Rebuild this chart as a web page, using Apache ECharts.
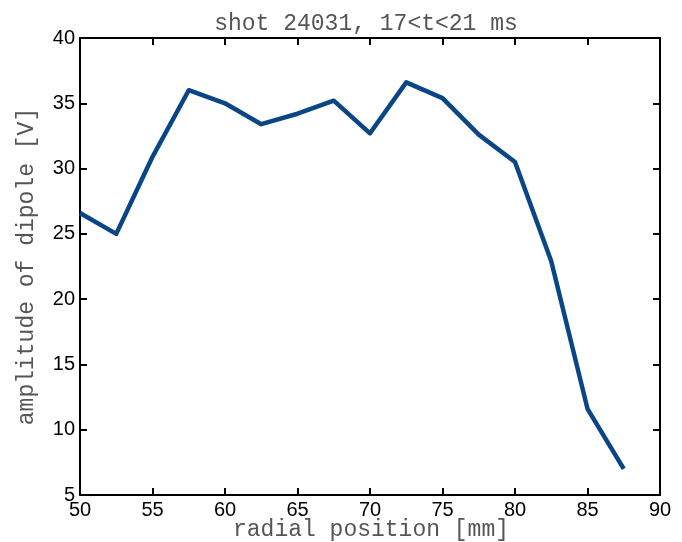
<!DOCTYPE html>
<html><head><meta charset="utf-8">
<script src="https://cdn.jsdelivr.net/npm/echarts@6/dist/echarts.min.js"></script>
<style>html,body{margin:0;padding:0;background:#fff}#c{width:682px;height:542px}</style>
</head><body><div id="c"></div>
<script>
const positions = [50, 52.5, 55, 57.5, 60, 62.5, 65, 67.5, 70, 72.5, 75, 77.5, 80, 82.5, 85, 87.5];
const amplitude = [26.6, 25.0, 30.9, 36.0, 35.0, 33.4, 34.2, 35.2, 32.7, 36.6, 35.4, 32.6, 30.5, 22.9, 11.6, 7.0];
const titleText = 'shot 24031, 17<t<21 ms';
const xName = 'radial position [mm]';
const yName = 'amplitude of dipole [V]';

const chart = echarts.init(document.getElementById('c'));
const axisLine = {show: true, lineStyle: {color: '#000', width: 2}};
const axisTick = {show: true, inside: true, length: 7, lineStyle: {color: '#000', width: 2}};
const labelFont = {fontFamily: 'Liberation Sans', fontSize: 20, color: '#000'};
const nameFont = {fontFamily: 'Liberation Mono', fontSize: 23, color: '#555'};
chart.setOption({
  animation: false,
  backgroundColor: '#fff',
  title: {text: titleText, left: 361, top: 7, textAlign: 'center',
    textStyle: {fontFamily: 'Liberation Mono', fontSize: 23, fontWeight: 'normal', color: '#555'}},
  grid: {left: 80, right: 22, top: 38, bottom: 47, containLabel: false, outerBoundsMode: 'none'},
  graphic: [{
    type: 'text', x: 371, y: 530,
    style: {text: xName, align: 'center', verticalAlign: 'middle',
      font: '23px "Liberation Mono"', fill: '#555'}
  }],
  xAxis: [
    {type: 'value', min: 50, max: 90, interval: 5, position: 'bottom',
     axisLine, axisTick, axisLabel: Object.assign({margin: 5}, labelFont), splitLine: {show: false}},
    {type: 'value', min: 50, max: 90, interval: 5, position: 'top',
     axisLine, axisTick, axisLabel: {show: false}, splitLine: {show: false}}
  ],
  yAxis: [
    {type: 'value', min: 5, max: 40, interval: 5, position: 'left',
     name: yName, nameLocation: 'middle', nameGap: 42, nameRotate: 90, nameTextStyle: nameFont,
     axisLine, axisTick, axisLabel: Object.assign({margin: 5}, labelFont), splitLine: {show: false}},
    {type: 'value', min: 5, max: 40, interval: 5, position: 'right',
     axisLine, axisTick, axisLabel: {show: false}, splitLine: {show: false}}
  ],
  series: [{
    type: 'line', xAxisIndex: 0, yAxisIndex: 0,
    data: positions.map((p, i) => [p, amplitude[i]]),
    showSymbol: false, symbol: 'none',
    lineStyle: {color: '#0a4585', width: 4.5, join: 'round', cap: 'butt'}
  }]
});
</script></body></html>
